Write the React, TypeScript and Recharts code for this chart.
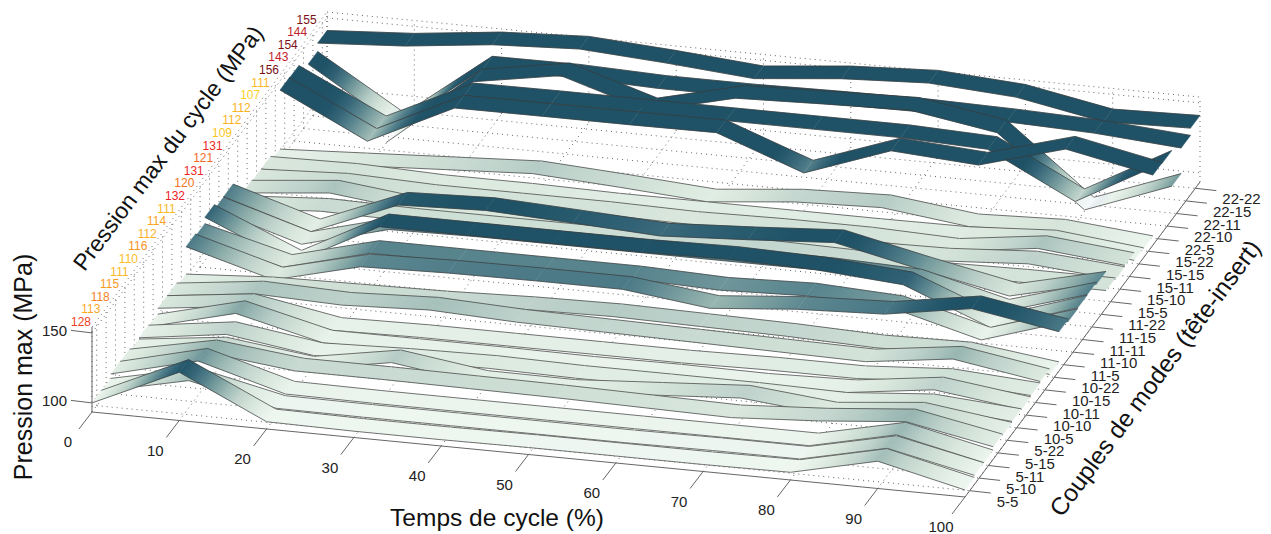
import React from "react";
import { ComposedChart, Line, Scatter, XAxis, YAxis } from "recharts";

// couples de modes, front to back
const modePairs = [
  "5-5", "5-10", "5-11", "5-15", "5-22",
  "10-5", "10-10", "10-11", "10-15", "10-22",
  "11-5", "11-10", "11-11", "11-15", "11-22",
  "15-5", "15-10", "15-11", "15-15", "15-22",
  "22-5", "22-10", "22-11", "22-15", "22-22",
];
const peakLabels = [128, 113, 118, 115, 111, 110, 116, 112, 114, 111, 132, 120, 131, 121, 131, 109, 112, 112, 107, 111, 156, 143, 154, 144, 155];
const cycleTimes = [0, 10, 20, 30, 40, 50, 60, 70, 80, 90, 100];
const pressureTicks = [100, 150];

// pressure values
const p5_5 = [100, 128, 98.7, 98, 98, 98.5, 98.5, 98.5, 99, 113, 98.5];
const p5_10 = [99.5, 113, 99.3, 99, 99, 99, 99, 99.5, 99.5, 113.2, 100];
const p5_11 = [102.7, 118, 100.5, 100, 100, 100, 100, 100, 100, 113.8, 100];
const p5_15 = [102.4, 115, 108, 108, 107.5, 107, 106, 105, 108.7, 114.2, 102.4];
const p5_22 = [100.6, 108, 100.4, 111, 102.3, 102, 106, 110, 104, 110, 101.8];
const p10_5 = [101.5, 110, 101, 103, 104, 103, 103, 103, 102, 107, 102.5];
const p10_10 = [100.4, 116, 101, 101, 101, 100.5, 101, 100.5, 102, 110, 102];
const p10_11 = [104.6, 112, 101, 102, 102, 102, 102, 103, 103, 107, 103];
const p10_15 = [104.6, 112, 110, 112.6, 110, 109, 108, 107, 106, 114, 104];
const p10_22 = [102, 106, 107, 108, 110, 111, 110, 109, 107, 108, 100];
const p11_5 = [121.6, 104, 119.4, 121, 121.5, 121.5, 114, 119.4, 122, 132, 121.6];
const p11_10 = [120, 104, 120, 120, 120, 120, 118, 120, 117, 100.6, 120];
const p11_11 = [124.6, 98, 130, 130, 130, 130, 131, 129.6, 125, 100.4, 120.6];
const p11_15 = [121, 102.4, 119, 120, 120, 120, 120, 120, 118, 102.6, 121];
const p11_22 = [121.3, 102.4, 127.5, 129.7, 126.8, 123.6, 127, 131, 117.5, 105, 119.6];
const p15_5 = [104, 108, 107, 107, 107, 108, 109, 108, 105, 106, 106];
const p15_10 = [106, 112, 105, 105, 105, 104, 104, 105, 106, 110, 105];
const p15_11 = [105, 108, 106, 106, 106, 105, 106, 106, 104, 112, 106];
const p15_15 = [105, 106, 104, 104, 103, 103, 103, 103, 103.4, 107, 100.5];
const p15_22 = [101.3, 104.5, 107.8, 111, 107.3, 103, 109, 111, 103.5, 105.7, 100];
const p22_5 = [143.5, 113, 142.8, 143, 143, 143.4, 120.7, 142.6, 138.5, 156, 143.5];
const p22_10 = [143, 113, 142.6, 143, 143, 143, 143, 143, 140.7, 109.5, 143];
const p22_11 = [null, 94, 143.6, 154, 135, 150, 152, 153.6, 143.6, 94.5, 117.5];
const p22_15 = [135, 97, 143.7, 144, 142, 142, 143, 143.5, 142.4, 140.4, 135.8];
const p22_22 = [141, 145, 152, 155, 151, 146, 152, 155, 151, 139.5, 141];

const pressures = [
  p5_5, p5_10, p5_11, p5_15, p5_22, p10_5, p10_10, p10_11, p10_15, p10_22,
  p11_5, p11_10, p11_11, p11_15, p11_22, p15_5, p15_10, p15_11, p15_15, p15_22,
  p22_5, p22_10, p22_11, p22_15, p22_22,
];

const WIDTH = 1271;
const HEIGHT = 534;
const FONT = "'Liberation Sans', Arial, sans-serif";
const Z_FLOOR = 93.5;
const Z_TOP = 154.2;
const DEPTH_COUNT = modePairs.length;

// oblique projection (t %, depth index, pressure) to the chart's x/y axes
function project(t: number, d: number, p: number) {
  return {
    sx: 92 + 8.73 * t + 9.4 * d,
    sy: 412 + 0.85 * t - 12.6 * d - 1.4 * (p - Z_FLOOR),
  };
}

const ribbonStops: [number, number, number, number][] = [
  [94, 248, 251, 251],
  [97, 224, 232, 238],
  [98, 238, 246, 240],
  [100, 235, 245, 238],
  [105, 217, 231, 221],
  [110, 190, 210, 203],
  [115, 143, 175, 171],
  [120, 88, 132, 142],
  [125, 48, 97, 116],
  [129, 31, 82, 102],
  [160, 31, 82, 102],
];
const labelStops: [number, number, number, number][] = [
  [107, 252, 210, 30],
  [112, 251, 177, 31],
  [116, 247, 146, 30],
  [121, 242, 107, 33],
  [128, 239, 65, 35],
  [132, 236, 32, 39],
  [144, 190, 30, 45],
  [150, 140, 20, 28],
  [155, 122, 16, 21],
];

function colorAt(stops: [number, number, number, number][], p: number) {
  if (p <= stops[0][0]) return `rgb(${stops[0][1]},${stops[0][2]},${stops[0][3]})`;
  for (let j = 1; j < stops.length; j++) {
    if (p <= stops[j][0]) {
      const a = stops[j - 1];
      const b = stops[j];
      const f = (p - a[0]) / (b[0] - a[0]);
      const c = [1, 2, 3].map((n) => Math.round(a[n] + (b[n] - a[n]) * f));
      return `rgb(${c[0]},${c[1]},${c[2]})`;
    }
  }
  const last = stops[stops.length - 1];
  return `rgb(${last[1]},${last[2]},${last[3]})`;
}

type Pt = { sx: number; sy: number };

function ribbonSegments(i: number) {
  const vals = pressures[i];
  const out: any[] = [];
  for (let k = 0; k < vals.length - 1; k++) {
    const p0 = vals[k];
    const p1 = vals[k + 1];
    if (p0 === null || p1 === null) continue;
    const a = project(cycleTimes[k], i, p0);
    out.push({
      ...a,
      id: `rib-${i}-${k}`,
      p0,
      p1,
      b: project(cycleTimes[k + 1], i, p1),
      c: project(cycleTimes[k + 1], i + 1, p1),
      d: project(cycleTimes[k], i + 1, p0),
    });
  }
  return out;
}

const RibbonSegment = (props: any) => {
  const { cx, cy, payload } = props;
  const { id, p0, p1, b, c, d, sx, sy } = payload;
  const ox = cx - sx;
  const oy = cy - sy;
  // isolines of the gradient run along the depth direction
  const nx = 12.6 / 15.72;
  const ny = 9.4 / 15.72;
  const len = (b.sx - sx) * nx + (b.sy - sy) * ny;
  const stops = [0, 1, 2, 3, 4, 5, 6, 7, 8];
  const pts = [{ sx, sy }, b, c, d].map((q: Pt) => `${q.sx + ox},${q.sy + oy}`).join(" ");
  return (
    <g>
      <linearGradient
        id={id}
        gradientUnits="userSpaceOnUse"
        x1={cx}
        y1={cy}
        x2={cx + nx * len}
        y2={cy + ny * len}
      >
        {stops.map((s) => (
          <stop key={s} offset={s / 8} stopColor={colorAt(ribbonStops, p0 + ((p1 - p0) * s) / 8)} />
        ))}
      </linearGradient>
      <polygon points={pts} fill={`url(#${id})`} stroke={`url(#${id})`} strokeWidth={0.4} />
      <line x1={cx} y1={cy} x2={b.sx + ox} y2={b.sy + oy} stroke="#3a3a3a" strokeWidth={0.7} />
      <line x1={d.sx + ox} y1={d.sy + oy} x2={c.sx + ox} y2={c.sy + oy} stroke="#3a3a3a" strokeWidth={0.7} />
    </g>
  );
};

const TextMark = (props: any) => {
  const { cx, cy, payload } = props;
  return (
    <text
      x={cx}
      y={cy}
      fontFamily={FONT}
      fontSize={payload.size}
      fill={payload.color}
      textAnchor={payload.anchor}
      dominantBaseline="central"
      transform={payload.angle ? `rotate(${payload.angle} ${cx} ${cy})` : undefined}
    >
      {payload.text}
    </text>
  );
};

// polyline pieces joined by gaps, for a single <Line>
function pieces(list: Pt[][]) {
  const out: any[] = [];
  list.forEach((seg) => {
    seg.forEach((q) => out.push(q));
    const e = seg[seg.length - 1];
    out.push({ sx: e.sx, sy: null });
  });
  return out;
}

const depthCenters = modePairs.map((_, i) => i + 0.5);
const gridPieces: Pt[][] = [];
// floor
cycleTimes.forEach((t) => gridPieces.push([project(t, 0, Z_FLOOR), project(t, DEPTH_COUNT, Z_FLOOR)]));
depthCenters.forEach((d) => gridPieces.push([project(0, d, Z_FLOOR), project(100, d, Z_FLOOR)]));
// left wall
[0, ...depthCenters, DEPTH_COUNT].forEach((d) => gridPieces.push([project(0, d, Z_FLOOR), project(0, d, Z_TOP)]));
[...pressureTicks, Z_TOP].forEach((p) => gridPieces.push([project(0, 0, p), project(0, DEPTH_COUNT, p)]));
// back wall
cycleTimes.forEach((t) => gridPieces.push([project(t, DEPTH_COUNT, Z_FLOOR), project(t, DEPTH_COUNT, Z_TOP)]));
[...pressureTicks, Z_TOP].forEach((p) => gridPieces.push([project(0, DEPTH_COUNT, p), project(100, DEPTH_COUNT, p)]));
const gridData = pieces(gridPieces);

const axisPieces: Pt[][] = [
  [project(0, 0, Z_TOP), project(0, 0, Z_FLOOR), project(100, 0, Z_FLOOR), project(100, DEPTH_COUNT, Z_FLOOR)],
];
cycleTimes.forEach((t) => {
  const b = project(t, 0, Z_FLOOR);
  axisPieces.push([b, { sx: b.sx - 13, sy: b.sy + 17 }]);
});
depthCenters.forEach((d) => {
  const b = project(100, d, Z_FLOOR);
  axisPieces.push([b, { sx: b.sx + 21, sy: b.sy + 2.3 }]);
});
pressureTicks.forEach((p) => {
  const b = project(0, 0, p);
  axisPieces.push([b, { sx: b.sx - 21, sy: b.sy - 2.5 }]);
});
const axisData = pieces(axisPieces);

const textMarks: any[] = [];
cycleTimes.forEach((t) => {
  const b = project(t, 0, Z_FLOOR);
  textMarks.push({ sx: b.sx - 24, sy: b.sy + 29.5, text: String(t), size: 15, color: "#222", anchor: "middle" });
});
modePairs.forEach((m, i) => {
  const b = project(100, i + 0.5, Z_FLOOR);
  textMarks.push({ sx: b.sx + 27, sy: b.sy + 10.5, text: m, size: 15, color: "#222", anchor: "start" });
});
pressureTicks.forEach((p) => {
  const b = project(0, 0, p);
  textMarks.push({ sx: b.sx - 25, sy: b.sy - 2, text: String(p), size: 15, color: "#222", anchor: "end" });
});
peakLabels.forEach((v, i) => {
  const b = project(0, i, Z_TOP);
  textMarks.push({ sx: b.sx - 1, sy: b.sy - 5, text: String(v), size: 12, color: colorAt(labelStops, v), anchor: "end" });
});
textMarks.push({ sx: 23, sy: 367, text: "Pression max (MPa)", size: 25, color: "#111", anchor: "middle", angle: -90 });
textMarks.push({ sx: 497, sy: 517, text: "Temps de cycle (%)", size: 24.5, color: "#111", anchor: "middle" });
textMarks.push({ sx: 168, sy: 148, text: "Pression max du cycle (MPa)", size: 23, color: "#111", anchor: "middle", angle: -53 });
textMarks.push({ sx: 1155, sy: 378, text: "Couples de modes (tête-insert)", size: 24.5, color: "#111", anchor: "middle", angle: -53.5 });

const ribbonOrder = modePairs.map((_, i) => DEPTH_COUNT - 1 - i);

export default function App() {
  return (
    <div style={{ position: "absolute", left: 0, top: 0, width: WIDTH, height: HEIGHT }}>
      <ComposedChart width={WIDTH} height={HEIGHT} margin={{ top: 0, right: 0, bottom: 0, left: 0 }}>
        <XAxis type="number" dataKey="sx" domain={[0, WIDTH]} hide allowDataOverflow />
        <YAxis type="number" dataKey="sy" domain={[0, HEIGHT]} reversed hide allowDataOverflow width={0} />
        <Line
          data={gridData}
          dataKey="sy"
          stroke="#666"
          strokeWidth={1}
          strokeDasharray="1 4"
          dot={false}
          isAnimationActive={false}
        />
        {ribbonOrder.map((i) => (
          <Scatter
            key={modePairs[i]}
            data={ribbonSegments(i)}
            dataKey="sy"
            shape={RibbonSegment}
            isAnimationActive={false}
          />
        ))}
        <Line data={axisData} dataKey="sy" stroke="#666" strokeWidth={1} dot={false} isAnimationActive={false} />
        <Scatter data={textMarks} dataKey="sy" shape={TextMark} isAnimationActive={false} />
      </ComposedChart>
    </div>
  );
}
